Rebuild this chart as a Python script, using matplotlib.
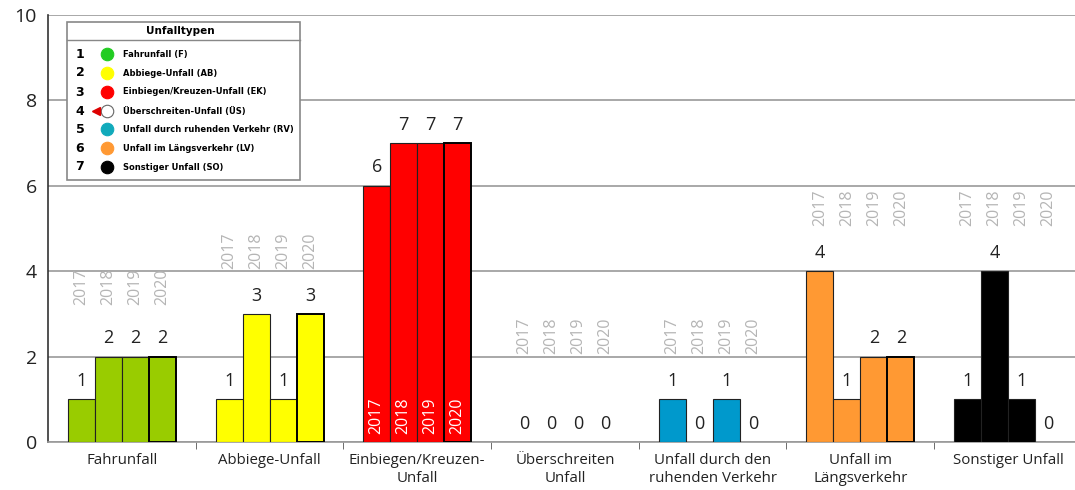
import numpy as np
import matplotlib.pyplot as plt
from matplotlib.patches import Rectangle
from matplotlib.lines import Line2D

plt.rcParams['font.family'] = ['Open Sans', 'DejaVu Sans']

categories = ["Fahrunfall", "Abbiege-Unfall", "Einbiegen/Kreuzen-\nUnfall",
              "Überschreiten\nUnfall", "Unfall durch den\nruhenden Verkehr",
              "Unfall im\nLängsverkehr", "Sonstiger Unfall"]
years = ["2017", "2018", "2019", "2020"]
v2017 = [1, 1, 6, 0, 1, 4, 1]
v2018 = [2, 3, 7, 0, 0, 1, 4]
v2019 = [2, 1, 7, 0, 1, 2, 1]
v2020 = [2, 3, 7, 0, 0, 2, 0]
colors = ["#99cc00", "#ffff00", "#ff0000", "#ffffff", "#0099cc", "#ff9933", "#000000"]
year_label_y = [3.2, 4.05, 0.18, 2.05, 2.05, 5.05, 5.05]

legend_nums = ["1", "2", "3", "4", "5", "6", "7"]
legend_cols = ["#22cc22", "#ffff00", "#ff0000", "#ffffff", "#11aabb", "#ff9933", "#000000"]
legend_txt = ["Fahrunfall (F)", "Abbiege-Unfall (AB)", "Einbiegen/Kreuzen-Unfall (EK)",
              "Überschreiten-Unfall (ÜS)", "Unfall durch ruhenden Verkehr (RV)",
              "Unfall im Längsverkehr (LV)", "Sonstiger Unfall (SO)"]

W, H = 1075, 490
fig = plt.figure(figsize=(10.75, 4.9), dpi=100)
# axis runs slightly past the right edge of the image, as in the original
ax = fig.add_axes([48/W, 1-442/H, 7*147.7/W, (442-15)/H])

vals = np.array([v2017, v2018, v2019, v2020])
x = np.arange(len(categories))
w = 27/147.7
for j in range(4):
    xs = x + (j - 1.5)*w
    base_lw = 1.4 if j == 3 else 0.8
    lws = [base_lw if v > 0 else 0 for v in vals[j]]
    ec = "#000000" if j == 3 else "#222222"
    ax.bar(xs, vals[j], width=w, color=colors, edgecolor=ec, linewidth=lws, zorder=3)
    for i in range(len(categories)):
        v = vals[j][i]
        ax.text(xs[i], v + 0.22, str(v), ha='center', va='bottom',
                fontsize=13, color='#222222', zorder=4)
        tc = 'white' if i == 2 else '#b5b5b5'
        ax.text(xs[i], year_label_y[i], years[j], rotation=90, ha='center', va='bottom',
                fontsize=11.5, color=tc, zorder=4)

ax.set_xlim(-0.5, 6.5)
ax.set_ylim(0, 10)
ax.set_yticks(range(0, 11, 2))
ax.yaxis.grid(True, color='#999999', linewidth=1.2, zorder=0)
ax.tick_params(axis='y', length=0, labelsize=14, colors='#222222', pad=8)
ax.set_xticks(x)
ax.set_xticklabels(categories, fontsize=10.8, color='#222222', linespacing=1.3)
ax.tick_params(axis='x', length=0, pad=8)
ax.set_xticks(np.arange(0.5, 6.5, 1), minor=True)
ax.tick_params(axis='x', which='minor', length=5, color='#555555', direction='out')
for s in ['top', 'right']:
    ax.spines[s].set_visible(False)
ax.spines['left'].set_color('#333333')
ax.spines['left'].set_linewidth(1.2)
ax.spines['bottom'].set_color('#999999')
ax.spines['bottom'].set_linewidth(1.2)

# legend box
def fx(px): return px / W
def fy(py): return 1 - py / H
fig.patches.append(Rectangle((fx(67), fy(180)), fx(300) - fx(67), fy(22) - fy(180),
                             transform=fig.transFigure, facecolor='white',
                             edgecolor='#888888', linewidth=1.2, zorder=10))
fig.lines.append(Line2D([fx(67), fx(300)], [fy(40), fy(40)], transform=fig.transFigure,
                        color='#888888', linewidth=1, zorder=11))
fig.text(fx(180), fy(31), "Unfalltypen", ha='center', va='center', fontsize=7.5,
         fontweight='bold', family='DejaVu Sans', zorder=12)
row_y = [54, 73, 92, 111, 129, 148, 167]
for k in range(7):
    fig.text(fx(80), fy(row_y[k]), legend_nums[k], ha='center', va='center', fontsize=9,
             fontweight='bold', family='DejaVu Sans', zorder=12)
    ec = '#666666' if k == 3 else legend_cols[k]
    fig.lines.append(Line2D([fx(107)], [fy(row_y[k])], transform=fig.transFigure,
                            marker='o', markersize=9, markerfacecolor=legend_cols[k],
                            markeredgecolor=ec, markeredgewidth=0.8, zorder=12))
    fig.text(fx(123), fy(row_y[k]), legend_txt[k], ha='left', va='center', fontsize=6,
             fontweight='bold', family='DejaVu Sans', zorder=12)
fig.lines.append(Line2D([fx(96)], [fy(row_y[3])], transform=fig.transFigure,
                        marker='<', markersize=6, color='#dd0000', zorder=12))

fig.savefig("out.png", dpi=100)
